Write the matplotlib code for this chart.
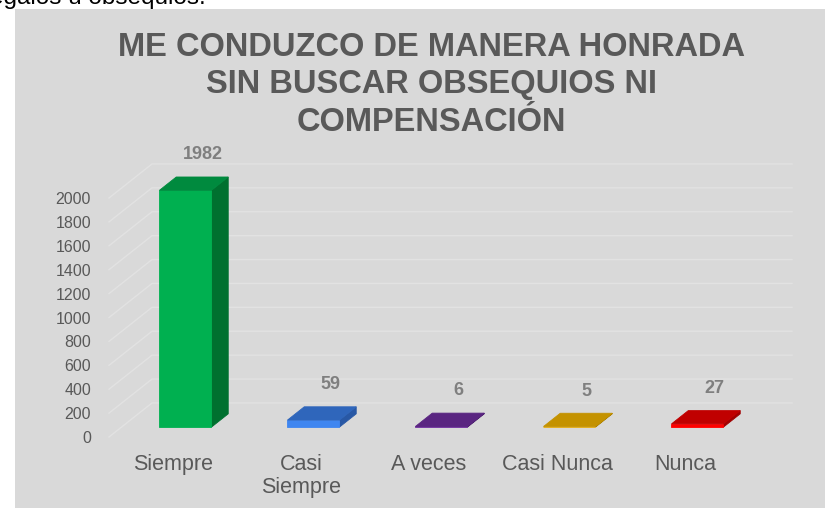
import matplotlib
matplotlib.use("Agg")
import matplotlib.pyplot as plt
from matplotlib.patches import Polygon, Rectangle

# ---------------- data ----------------
categories = ["Siempre", "Casi\nSiempre", "A veces", "Casi Nunca", "Nunca"]
values = [1982, 59, 6, 5, 27]
front_colors = ["#00b050", "#3f86f0", "#7030a0", "#e6a800", "#ff0000"]
top_colors = ["#008a3e", "#2f66bb", "#5a2581", "#c49200", "#c00000"]
side_colors = ["#00702f", "#2858a5", "#4a1f6b", "#a67c00", "#a00000"]
yticks = [0, 200, 400, 600, 800, 1000, 1200, 1400, 1600, 1800, 2000]
title = "ME CONDUZCO DE MANERA HONRADA\nSIN BUSCAR OBSEQUIOS NI\nCOMPENSACIÓN"
header_text = "regalos u obsequios."

# ---------------- style ----------------
W, H = 825, 508
TXT = "#595959"
BG = "#d9d9d9"
GRID = "#e2e2e2"
plt.rcParams["font.family"] = ["Liberation Sans", "DejaVu Sans"]

fig = plt.figure(figsize=(W / 100, H / 100), dpi=100)
fig.patch.set_facecolor("white")
fig.patches.append(Rectangle((15 / W, 0), 1 - 15 / W, (H - 9) / H,
                             transform=fig.transFigure, facecolor=BG,
                             edgecolor="none", zorder=-5))
fig.text(206 / W, 1 - 4 / H, header_text, ha="right", va="baseline",
         fontsize=17.5, color="black")

ax = fig.add_axes([109 / W, (H - 437) / H, 640 / W, 239 / H])
ax.set_zorder(2)
ax.set_facecolor("none")
ax.set_xlim(-0.5, len(categories) - 0.5)
ax.set_ylim(0, 2000)
for s in ax.spines.values():
    s.set_visible(False)
ax.set_yticks(yticks)
ax.set_yticklabels([str(t) for t in yticks])
ax.set_xticks(range(len(categories)))
ax.set_xticklabels(categories, linespacing=1.15)
ax.tick_params(axis="y", length=0, pad=13, labelsize=11.5, labelcolor=TXT)
ax.tick_params(axis="x", length=0, pad=12, labelsize=15.5, labelcolor=TXT)

# oblique projection for depth
DEPTH_X = 0.336   # category units for full depth
DEPTH_Y = 285.0   # value units for full depth
def proj(x, v, d):
    return (x + DEPTH_X * d, v + DEPTH_Y * d)

x0, x1 = -0.5, len(categories) - 0.5
for t in yticks:
    ax.plot(*zip(proj(x0, t, 0), proj(x0, t, 1), proj(x1, t, 1)),
            color=GRID, lw=1.0, zorder=1, clip_on=False)

HW = 0.203
DF, DB = 0.29, 0.68
for i, (v, fc, tc, sc) in enumerate(zip(values, front_colors, top_colors, side_colors)):
    l, r = i - HW, i + HW
    front = [proj(l, 0, DF), proj(r, 0, DF), proj(r, v, DF), proj(l, v, DF)]
    side = [proj(r, 0, DF), proj(r, 0, DB), proj(r, v, DB), proj(r, v, DF)]
    top = [proj(l, v, DF), proj(r, v, DF), proj(r, v, DB), proj(l, v, DB)]
    for pts, c in ((side, sc), (front, fc), (top, tc)):
        ax.add_patch(Polygon(pts, closed=True, facecolor=c, edgecolor=c,
                             lw=0.6, zorder=3, clip_on=False))
    lx = proj(i, v, (DF + DB) / 2 + 0.2)[0]
    ly = proj(i, v, DB)[1]
    ax.annotate(str(v), (lx, ly), xytext=(0, 16), textcoords="offset points",
                ha="center", va="center", fontsize=13, fontweight="bold",
                color="#7f7f7f", zorder=5, annotation_clip=False)

fig.text(431 / W, 1 - 85 / H, title, ha="center", va="center",
         fontsize=23.5, fontweight="bold", color=TXT, linespacing=1.27)

fig.savefig("out.png", dpi=100, facecolor=fig.get_facecolor())
